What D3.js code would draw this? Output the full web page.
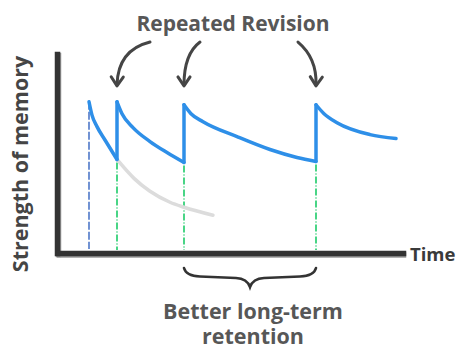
<!DOCTYPE html>
<html>
<head>
<meta charset="utf-8">
<script src="https://cdn.jsdelivr.net/npm/d3@7"></script>
<style>
body { margin: 0; background: #fff; }
text { font-family: "Open Sans", Lato, sans-serif; font-weight: 700; }
</style>
</head>
<body>
<div id="canvas"></div>
<script>
// ----------------------------------------------------------
// DATA -----------------------------------------------------
// ----------------------------------------------------------
// first learning time and the revision times
var learn_time = 3.0;
var revision_times = [5.8, 12.5, 25.7];

// blue curve, one segment per learning / revision, [time, strength]
var seg_1 = [[3.0, 76], [3.3, 69.3], [3.8, 63.5], [4.6, 56.8], [5.8, 47]];
var seg_2 = [[5.8, 76], [6.3, 70], [7.4, 63], [9.1, 56], [10.8, 50.5], [12.5, 45.5]];
var seg_3 = [[12.5, 74.5], [13.2, 70], [14.4, 66], [17.8, 58.5], [21.1, 52], [23.8, 48], [25.7, 46]];
var seg_4 = [[25.7, 74.5], [26.5, 70], [27.8, 65.5], [31.1, 59.5], [33.7, 57.5]];
var segments = [seg_1, seg_2, seg_3, seg_4];

// grey curve: forgetting without revision
var forget_curve = [[5.8, 47], [7.5, 37.5], [9.1, 31], [11.1, 25.5], [12.5, 23], [15.4, 19]];

var text_title = "Repeated Revision";
var text_x = "Time";
var text_y = "Strength of memory";
var text_note = ["Better long-term", "retention"];

// ----------------------------------------------------------
// STRUCTURE ------------------------------------------------
// ----------------------------------------------------------
var W = 460, H = 349;
var svg = d3.select("#canvas").append("svg")
.attr("width", W)
.attr("height", H);

var xScale = d3.scaleLinear().domain([0, 34.4]).range([59, 403]);
var yScale = d3.scaleLinear().domain([0, 100]).range([253, 54]);

// ----------------------------------------------------------
// AXES -----------------------------------------------------
// ----------------------------------------------------------
function plainAxis(g) {
g.selectAll(".tick").remove();
g.select(".domain").attr("stroke", "#333").attr("stroke-width", 5.5).attr("stroke-linecap", "square");
}
// soft shadow first
svg.append("g")
.attr("transform", "translate(" + (xScale(0) - 1) + "," + 1 + ")")
.call(d3.axisLeft(yScale).tickValues([]).tickSizeOuter(0))
.call(plainAxis)
.select(".domain").attr("stroke", "#999");
svg.append("g")
.attr("transform", "translate(0," + (yScale(0) + 1.5) + ")")
.call(d3.axisBottom(xScale).tickValues([]).tickSizeOuter(0))
.call(plainAxis)
.select(".domain").attr("stroke", "#999");

svg.append("g")
.attr("transform", "translate(" + (xScale(0) - 2) + ",0)")
.call(d3.axisLeft(yScale).tickValues([]).tickSizeOuter(0))
.call(plainAxis);
svg.append("g")
.attr("transform", "translate(0," + yScale(0) + ")")
.call(d3.axisBottom(xScale).tickValues([]).tickSizeOuter(0))
.call(plainAxis);

// ----------------------------------------------------------
// GUIDES ---------------------------------------------------
// ----------------------------------------------------------
// blue dashed line at first learning
svg.append("line")
.attr("x1", xScale(learn_time)).attr("x2", xScale(learn_time))
.attr("y1", yScale(seg_1[0][1])).attr("y2", yScale(2))
.attr("stroke", "#4f78c9").attr("stroke-width", 1.6)
.attr("stroke-dasharray", "8,2");

// green dashed lines at each revision
svg.selectAll(".rev_line")
.data(segments.slice(0, 3))
.enter().append("line")
.attr("class", "rev_line")
.attr("x1", function(d) { return xScale(d[d.length - 1][0]); })
.attr("x2", function(d) { return xScale(d[d.length - 1][0]); })
.attr("y1", function(d) { return yScale(d[d.length - 1][1]) + 3; })
.attr("y2", yScale(1.5))
.attr("stroke", "#1ccb68").attr("stroke-width", 1.6)
.attr("stroke-dasharray", "7,2,1,2");

// ----------------------------------------------------------
// CURVES ---------------------------------------------------
// ----------------------------------------------------------
var line = d3.line()
.x(function(d) { return xScale(d[0]); })
.y(function(d) { return yScale(d[1]); })
.curve(d3.curveMonotoneX);

svg.append("path")
.datum(forget_curve)
.attr("d", line)
.attr("fill", "none").attr("stroke", "#dcdcdc").attr("stroke-width", 3.5)
.attr("stroke-linecap", "round");

svg.selectAll(".seg")
.data(segments)
.enter().append("path")
.attr("class", "seg")
.attr("d", line)
.attr("fill", "none").attr("stroke", "#2e8fe8").attr("stroke-width", 3.5)
.attr("stroke-linecap", "round").attr("stroke-linejoin", "round");

// jumps at each revision
svg.selectAll(".jump")
.data(d3.pairs(segments))
.enter().append("line")
.attr("class", "jump")
.attr("x1", function(d) { return xScale(d[0][d[0].length - 1][0]); })
.attr("x2", function(d) { return xScale(d[1][0][0]); })
.attr("y1", function(d) { return yScale(d[0][d[0].length - 1][1]); })
.attr("y2", function(d) { return yScale(d[1][0][1]); })
.attr("stroke", "#2e8fe8").attr("stroke-width", 3.5)
.attr("stroke-linecap", "round");

// ----------------------------------------------------------
// ARROWS ---------------------------------------------------
// ----------------------------------------------------------
var arrow_dx = [33, 16, -18]; // start x offset from tip
var arrow_bend = [102, 100, 98];
var arrow_start_s = 106, arrow_tip_s = 84.5;

revision_times.forEach(function(t, i) {
var tx = xScale(t), ty = yScale(arrow_tip_s);
var sx = tx + arrow_dx[i];
var sy = yScale(arrow_start_s);
var cx = tx + (i == 1 ? 0 : 1);
var cy = yScale(arrow_bend[i]);
var p = d3.path();
p.moveTo(sx, sy);
p.quadraticCurveTo(cx, cy, tx, ty);
svg.append("path").attr("d", p.toString())
.attr("fill", "none").attr("stroke", "#454545").attr("stroke-width", 3)
.attr("stroke-linecap", "round");
// arrow head
var ang = Math.atan2(ty - cy, tx - cx);
var h = d3.path();
[-0.65, 0.65].forEach(function(a) {
h.moveTo(tx - 10 * Math.cos(ang + a), ty - 10 * Math.sin(ang + a));
h.lineTo(tx, ty + 1);
});
svg.append("path").attr("d", h.toString())
.attr("fill", "none").attr("stroke", "#454545").attr("stroke-width", 3)
.attr("stroke-linecap", "round").attr("stroke-linejoin", "round");
});

// brace below the x axis between revisions
var bx0 = xScale(revision_times[1]), bx1 = xScale(revision_times[2]);
var bm = (bx0 + bx1) / 2;
var b = d3.path();
b.moveTo(bx0, 268);
b.quadraticCurveTo(bx0 + 2, 276, bx0 + 16, 276.5);
b.lineTo(bm - 14, 278);
b.quadraticCurveTo(bm - 3, 278.5, bm, 287);
b.quadraticCurveTo(bm + 3, 278.5, bm + 14, 278);
b.lineTo(bx1 - 16, 276.5);
b.quadraticCurveTo(bx1 - 2, 276, bx1, 268);
svg.append("path").attr("d", b.toString())
.attr("fill", "none").attr("stroke", "#333").attr("stroke-width", 2.6)
.attr("stroke-linecap", "round");

// ----------------------------------------------------------
// TEXT -----------------------------------------------------
// ----------------------------------------------------------
svg.append("text")
.attr("x", 233).attr("y", 31)
.attr("text-anchor", "middle")
.style("font-size", "21px").style("fill", "#575757")
.text(text_title);

svg.append("text")
.attr("x", 410).attr("y", 261)
.style("font-size", "18.5px").style("fill", "#3a3a3a")
.text(text_x);

svg.append("text")
.attr("transform", "translate(28,164) rotate(-90)")
.attr("text-anchor", "middle")
.style("font-size", "21.5px").style("fill", "#454545")
.text(text_y);

svg.selectAll(".note")
.data(text_note)
.enter().append("text")
.attr("class", "note")
.attr("x", 253)
.attr("y", function(d, i) { return 319 + i * 25; })
.attr("text-anchor", "middle")
.style("font-size", "21.5px").style("fill", "#575757")
.text(function(d) { return d; });
</script>
</body>
</html>
